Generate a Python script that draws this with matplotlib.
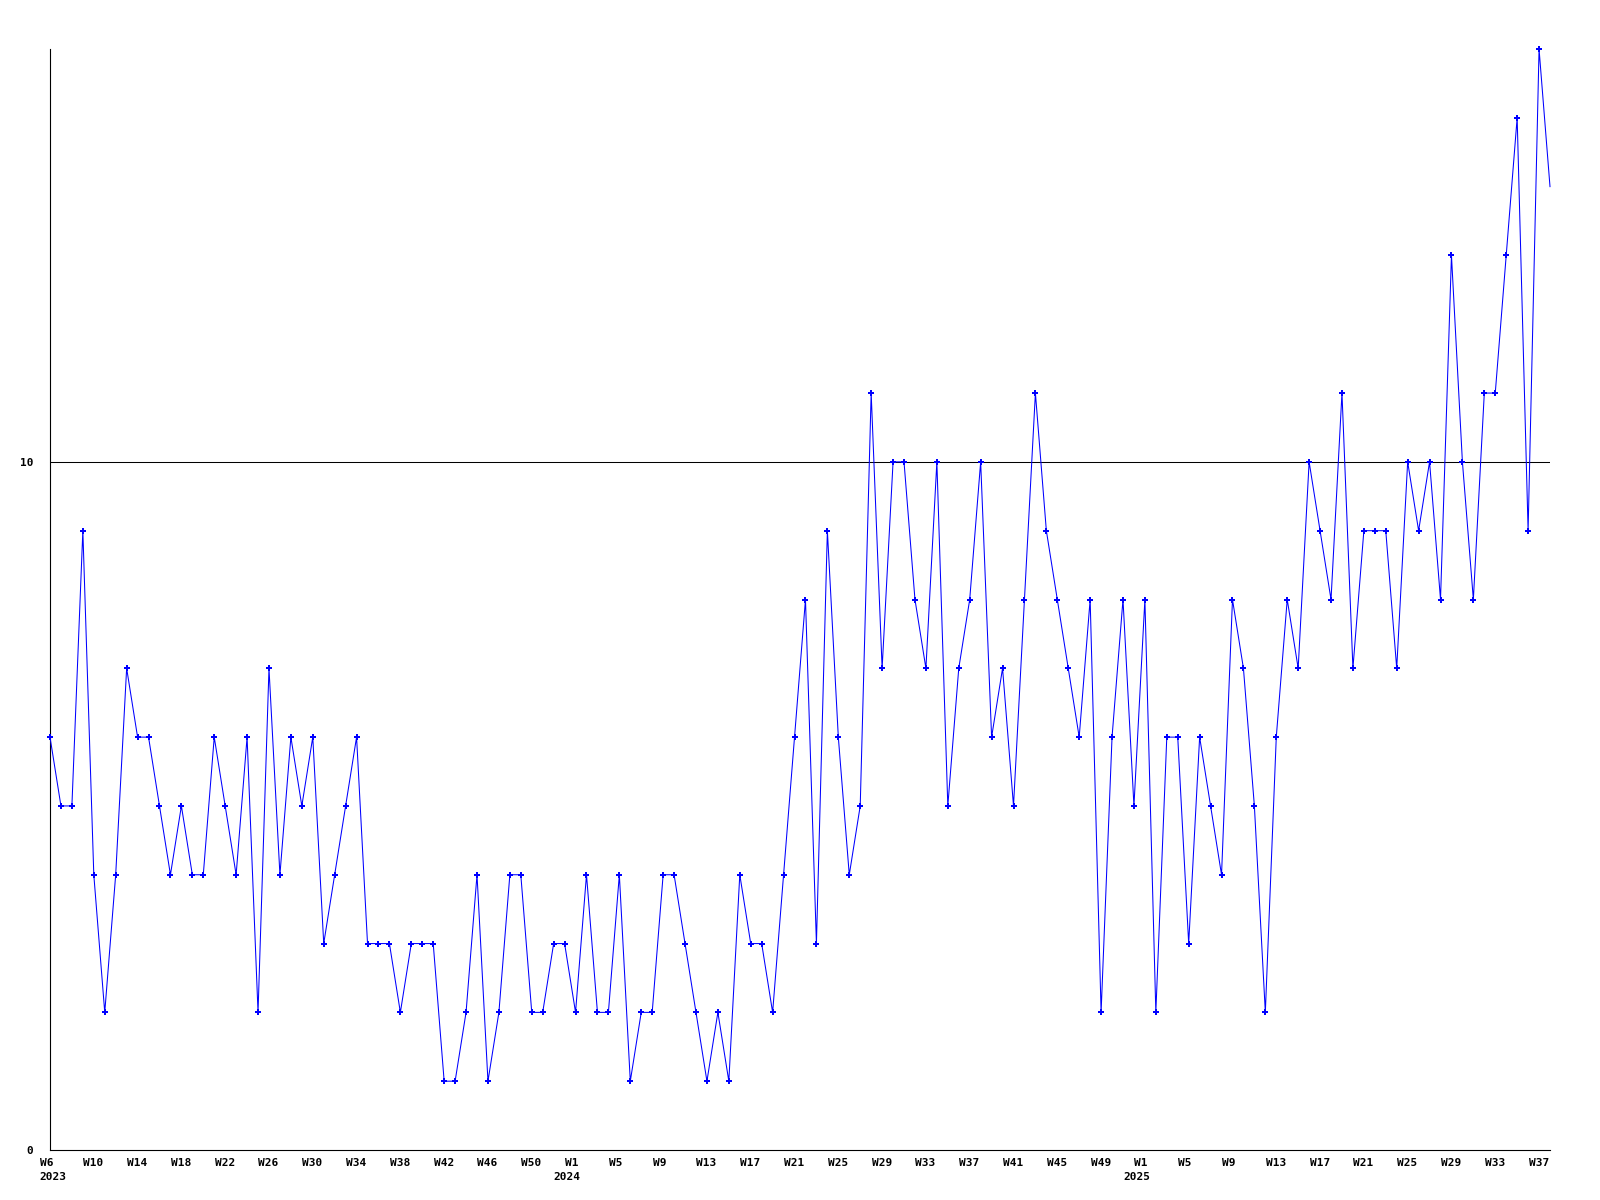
import matplotlib
matplotlib.use("Agg")
import matplotlib.pyplot as plt
from matplotlib.transforms import offset_copy

# weekly counts, W6 2023 -> W38 2025
counts = [6, 5, 5, 9, 4, 2, 4, 7, 6, 6, 5, 4, 5, 4, 4, 6, 5, 4, 6, 2, 7, 4, 6, 5, 6, 3, 4,
          5, 6, 3, 3, 3, 2, 3, 3, 3, 1, 1, 2, 4, 1, 2, 4, 4, 2, 2, 3, 3, 2, 4, 2, 2, 4,
          1, 2, 2, 4, 4, 3, 2, 1, 2, 1, 4, 3, 3, 2, 4, 6, 8, 3, 9, 6, 4, 5, 11, 7, 10, 10,
          8, 7, 10, 5, 7, 8, 10, 6, 7, 5, 8, 11, 9, 8, 7, 6, 8, 2, 6, 8, 5, 8, 2, 6, 6, 3, 6,
          5, 4, 8, 7, 5, 2, 6, 8, 7, 10, 9, 8, 11, 7, 9, 9, 9, 7,
          10, 9, 10, 8, 13, 10, 8, 11, 11, 13, 15, 9, 16, 14]

week_labels = ["W6", "W10", "W14", "W18", "W22", "W26", "W30", "W34", "W38", "W42", "W46", "W50",
               "W1", "W5", "W9", "W13", "W17", "W21", "W25", "W29", "W33", "W37", "W41", "W45", "W49",
               "W1", "W5", "W9", "W13", "W17", "W21", "W25", "W29", "W33", "W37"]
year_labels = ["2023", "2024", "2025"]
year_label_pos = [0, 48, 100]  # index of the week where each year starts

y_ticks = [0, 10]
label_every = 4

FONT = dict(family="DejaVu Sans Mono", weight="bold", size=8)

x = list(range(len(counts)))

fig = plt.figure(figsize=(16, 12), dpi=100)
ax = fig.add_axes([50 / 1600, 50 / 1200, 1500 / 1600, 1101 / 1200])

ax.axhline(10, color="black", lw=0.75, zorder=1)
ax.plot(x, counts, color="#0000ff", lw=0.75, marker="P", ms=3.8, mew=0,
        markevery=list(range(len(counts) - 1)), clip_on=False, zorder=3)

ax.set_xlim(0, len(counts) - 1)
ax.set_ylim(0, 16)

for s in ["top", "right"]:
    ax.spines[s].set_visible(False)
for s in ["left", "bottom"]:
    ax.spines[s].set_linewidth(0.8)

ax.set_yticks(y_ticks)
ax.set_yticklabels([str(v) for v in y_ticks], fontdict=FONT)
ax.tick_params(axis="y", length=0, pad=12)
ax.set_xticks([])

# week labels, left aligned a bit before the tick
tr_week = offset_copy(ax.get_xaxis_transform(), fig=fig, x=-10.5, y=-12.5, units="dots")
for i, lab in enumerate(week_labels):
    ax.text(i * label_every, 0, lab, transform=tr_week, ha="left", va="center", **FONT)

for j, (yr, pos) in enumerate(zip(year_labels, year_label_pos)):
    dx = -11 if j == 0 else -22
    tr_year = offset_copy(ax.get_xaxis_transform(), fig=fig, x=dx, y=-27, units="dots")
    ax.text(pos, 0, yr, transform=tr_year, ha="left", va="center", **FONT)

fig.savefig("out.png", dpi=100)
